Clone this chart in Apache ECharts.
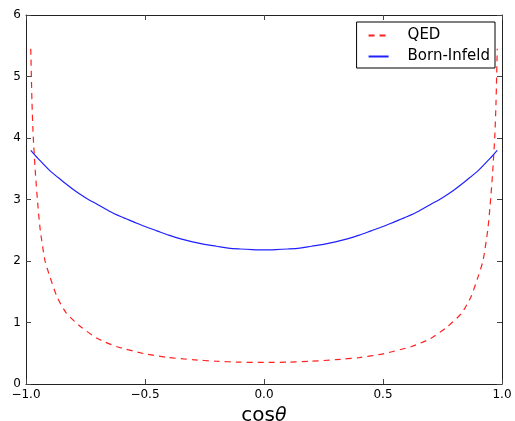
<!DOCTYPE html>
<html><head><meta charset="utf-8">
<script src="https://cdn.jsdelivr.net/npm/echarts@6/dist/echarts.min.js"></script>
<style>html,body{margin:0;padding:0;background:#fff}#c{width:515px;height:421px}</style>
</head><body><div id="c"></div>
<script>
const xTicks = [-1, -0.5, 0, 0.5, 1];
const yTicks = [0, 1, 2, 3, 4, 5, 6];
const qedX = [-0.98,-0.975,-0.97,-0.96,-0.95,-0.94,-0.92,-0.9,-0.87,-0.83,-0.77,-0.7,-0.62,-0.5,-0.4,-0.3,-0.2,-0.1,0,0.1,0.2,0.3,0.4,0.5,0.62,0.7,0.77,0.83,0.87,0.9,0.92,0.94,0.95,0.96,0.97,0.975,0.98];
const qedY = [5.45,4.6,4.05,3.4,2.9,2.5,2.0,1.75,1.42,1.15,0.93,0.74,0.61,0.49,0.43,0.395,0.37,0.355,0.35,0.355,0.37,0.395,0.43,0.49,0.61,0.74,0.93,1.15,1.42,1.75,2.0,2.5,2.9,3.4,4.05,4.6,5.45];
const biX = [-0.98,-0.95,-0.9,-0.85,-0.8,-0.75,-0.7,-0.65,-0.6,-0.55,-0.5,-0.45,-0.4,-0.35,-0.3,-0.25,-0.2,-0.15,-0.1,-0.05,0,0.05,0.1,0.15,0.2,0.25,0.3,0.35,0.4,0.45,0.5,0.55,0.6,0.65,0.7,0.75,0.8,0.85,0.9,0.95,0.98];
const biY = [3.80,3.67,3.47,3.31,3.16,3.03,2.92,2.81,2.72,2.64,2.56,2.49,2.42,2.36,2.31,2.27,2.24,2.21,2.195,2.185,2.18,2.185,2.195,2.21,2.24,2.27,2.31,2.36,2.42,2.49,2.56,2.64,2.72,2.81,2.92,3.03,3.16,3.31,3.47,3.67,3.80];
const seriesNames = ['QED', 'Born-Infeld'];

const font = 'DejaVu Sans';
const fmtX = v => (v < 0 ? '\u2212' : '') + Math.abs(v).toFixed(1);
const lineCol = '#222';
const baseX = {
  type: 'value', min: xTicks[0], max: xTicks[xTicks.length-1], interval: 0.5,
  splitLine: {show: false},
  axisLine: {show: true, onZero: false, lineStyle: {color: lineCol, width: 1}},
  axisTick: {show: true, inside: true, length: 5, lineStyle: {color: '#444'}}
};
const baseY = {
  type: 'value', min: yTicks[0], max: yTicks[yTicks.length-1], interval: 1,
  splitLine: {show: false},
  axisLine: {show: true, onZero: false, lineStyle: {color: lineCol, width: 1}},
  axisTick: {show: true, inside: true, length: 5, lineStyle: {color: '#444'}}
};
const chart = echarts.init(document.getElementById('c'), null, {renderer: 'canvas'});
chart.setOption({
  animation: false,
  backgroundColor: '#fff',
  textStyle: {fontFamily: font},
  grid: {left: 26, right: 13, top: 15, bottom: 37, containLabel: false, outerBoundsMode: 'none'},
  xAxis: [
    Object.assign({}, baseX, {
      position: 'bottom',
      axisLabel: {show: true, margin: 5, color: '#000', fontSize: 12, fontFamily: font, formatter: fmtX},
      name: '{a|cos}{b|θ}', nameLocation: 'middle', nameGap: 18,
      nameTextStyle: {rich: {a: {fontSize: 20, fontFamily: font, color: '#000'}, b: {fontSize: 19, fontStyle: 'italic', fontFamily: font, color: '#000'}}}
    }),
    Object.assign({}, baseX, {position: 'top', axisLabel: {show: false}})
  ],
  yAxis: [
    Object.assign({}, baseY, {
      position: 'left',
      axisLabel: {show: true, margin: 5, color: '#000', fontSize: 12, fontFamily: font}
    }),
    Object.assign({}, baseY, {position: 'right', axisLabel: {show: false}})
  ],
  legend: {
    show: true, orient: 'vertical', right: 20, top: 22,
    padding: [6, 5, 4, 11], itemGap: 6, itemWidth: 20, itemHeight: 14,
    borderColor: '#000', borderWidth: 1, borderRadius: 0, backgroundColor: '#fff',
    itemStyle: {opacity: 0},
    textStyle: {fontSize: 15, fontFamily: font, color: '#000', padding: [0, 0, 0, 14]},
    data: seriesNames
  },
  series: [
    {
      name: seriesNames[0], type: 'line', xAxisIndex: 0, yAxisIndex: 0,
      data: qedX.map((x, i) => [x, qedY[i]]),
      showSymbol: false, symbol: 'none', smooth: 0.2,
      lineStyle: {color: '#ff2020', width: 1.2, type: [6, 5]},
      itemStyle: {color: '#ff2020'}
    },
    {
      name: seriesNames[1], type: 'line', xAxisIndex: 0, yAxisIndex: 0,
      data: biX.map((x, i) => [x, biY[i]]),
      showSymbol: false, symbol: 'none', smooth: 0.3,
      lineStyle: {color: '#2020ff', width: 1.2, type: 'solid'},
      itemStyle: {color: '#2020ff'}
    }
  ]
});
</script></body></html>
